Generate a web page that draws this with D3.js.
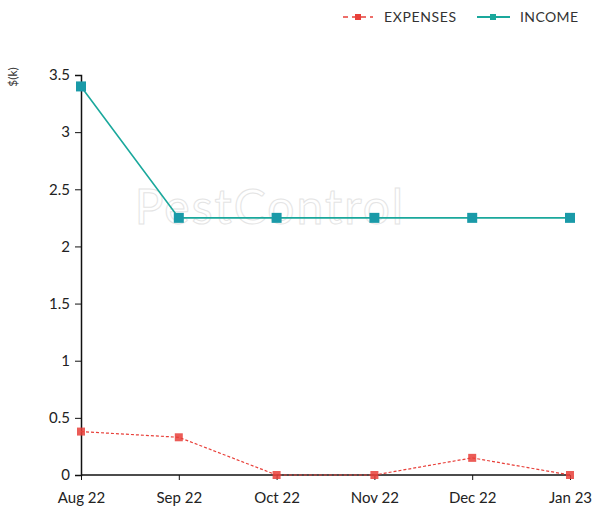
<!DOCTYPE html>
<html>
<head>
<meta charset="utf-8">
<script src="https://cdn.jsdelivr.net/npm/d3@7/dist/d3.min.js"></script>
<style>
  html, body { margin: 0; padding: 0; background: #fff; }
  svg { display: block; font-family: Lato, "Open Sans", sans-serif; }
</style>
</head>
<body>
<svg id="chart" width="598" height="517"></svg>
<script>
// Monthly income and expenses, in thousands of dollars
const months = ["Aug 22", "Sep 22", "Oct 22", "Nov 22", "Dec 22", "Jan 23"];
const expenses = [0.38, 0.33, 0, 0, 0.15, 0];
const income = [3.4, 2.25, 2.25, 2.25, 2.25, 2.25];
const yTicks = [0, 0.5, 1, 1.5, 2, 2.5, 3, 3.5];
const yTickLabels = ["0", "0.5", "1", "1.5", "2", "2.5", "3", "3.5"];

const svg = d3.select("#chart");
const margin = { left: 81, right: 28, top: 75, bottom: 42 };
const W = 598, H = 517;

const x = d3.scalePoint().domain(months).range([margin.left, W - margin.right]);
const y = d3.scaleLinear().domain([0, 3.5]).range([H - margin.bottom, margin.top]);

// faint watermark
svg.append("text")
  .attr("x", 270).attr("y", 224)
  .attr("text-anchor", "middle")
  .attr("font-size", 48)
  .attr("fill", "none")
  .attr("stroke", "#e4e4e4")
  .attr("stroke-width", 1)
  .attr("letter-spacing", 2)
  .text("PestControl");

// axes
const yAxis = d3.axisLeft(y).tickValues(yTicks)
  .tickFormat((d, i) => yTickLabels[i]).tickSize(6).tickPadding(5);
const gy = svg.append("g").attr("transform", `translate(${margin.left},0)`).call(yAxis);
gy.select(".domain").attr("stroke", "#111").attr("stroke-width", 1.5);
gy.selectAll(".tick line").attr("stroke", "#111");
gy.selectAll(".tick text").attr("font-size", 15).attr("fill", "#222").attr("font-family", "Lato, sans-serif");

const xAxis = d3.axisBottom(x).tickSize(5).tickPadding(12);
const gx = svg.append("g").attr("transform", `translate(0,${y(0)})`).call(xAxis);
gx.select(".domain").attr("stroke", "#111").attr("stroke-width", 1.5).attr("d", `M${margin.left},0H${W - margin.right}`);
gx.selectAll(".tick line").attr("stroke", "#111");
gx.selectAll(".tick text").attr("font-size", 15).attr("fill", "#222").attr("font-family", "Lato, sans-serif");

// y axis title
svg.append("text")
  .attr("transform", `translate(17,${margin.top + 2}) rotate(-90)`)
  .attr("text-anchor", "middle")
  .attr("font-size", 12)
  .attr("fill", "#333")
  .text("$(k)");

const line = d3.line().x((d, i) => x(months[i])).y(d => y(d));

const incomeColor = "#1aa89c";
const incomeMarker = "#1a9aa8";
const expColor = "#e8403a";

// income series
svg.append("path").datum(income)
  .attr("d", line).attr("fill", "none")
  .attr("stroke", incomeColor).attr("stroke-width", 1.6);
svg.selectAll(".inc-pt").data(income).enter().append("rect")
  .attr("x", (d, i) => x(months[i]) - 5).attr("y", d => y(d) - 5)
  .attr("width", 10).attr("height", 10).attr("fill", incomeMarker);

// expenses series
svg.append("path").datum(expenses)
  .attr("d", line).attr("fill", "none")
  .attr("stroke", expColor).attr("stroke-width", 1.2)
  .attr("stroke-dasharray", "3,2");
svg.selectAll(".exp-pt").data(expenses).enter().append("rect")
  .attr("x", (d, i) => x(months[i]) - 4).attr("y", d => y(d) - 4)
  .attr("width", 8).attr("height", 8).attr("fill", expColor).attr("opacity", 0.85);

// legend
const lg = svg.append("g").attr("font-size", 14).attr("fill", "#333");
lg.append("line").attr("x1", 343).attr("x2", 373).attr("y1", 17).attr("y2", 17)
  .attr("stroke", expColor).attr("stroke-width", 1.6).attr("stroke-dasharray", "5,4");
lg.append("rect").attr("x", 355).attr("y", 14).attr("width", 6).attr("height", 6).attr("fill", expColor);
lg.append("text").attr("x", 384).attr("y", 22).attr("textLength", 72).text("EXPENSES");
lg.append("line").attr("x1", 477).attr("x2", 510).attr("y1", 17).attr("y2", 17)
  .attr("stroke", incomeColor).attr("stroke-width", 2);
lg.append("rect").attr("x", 490).attr("y", 14).attr("width", 6).attr("height", 6).attr("fill", incomeColor);
lg.append("text").attr("x", 520).attr("y", 22).attr("textLength", 58).text("INCOME");
</script>
</body>
</html>
